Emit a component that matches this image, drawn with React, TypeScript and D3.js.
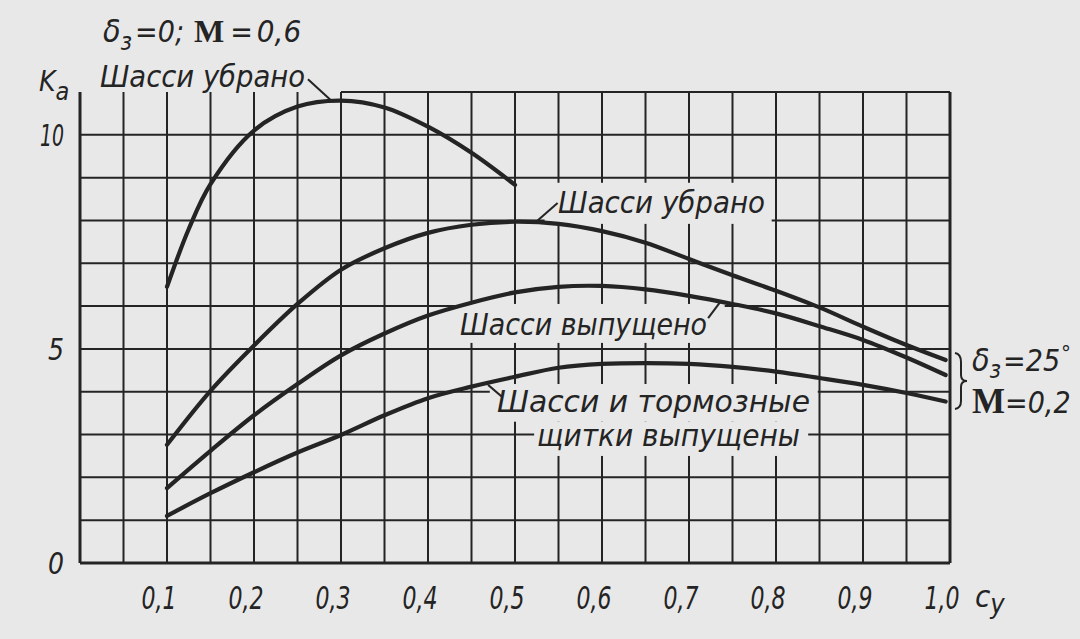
import React from "react";
import * as d3 from "d3";

// ---- data ----
const cyClean06 = [0.1, 0.125, 0.15, 0.2, 0.25, 0.3, 0.35, 0.4, 0.45, 0.5];
const kaClean06 = [6.45, 7.8, 8.85, 10.1, 10.66, 10.8, 10.64, 10.19, 9.58, 8.83];

const cy25 = [0.1, 0.15, 0.2, 0.25, 0.3, 0.35, 0.4, 0.45, 0.5, 0.55, 0.6, 0.65, 0.7, 0.75, 0.8, 0.85, 0.9, 0.95, 0.995];
const kaGearUp25 = [2.76, 4.02, 5.08, 6.05, 6.85, 7.35, 7.71, 7.9, 7.97, 7.92, 7.75, 7.48, 7.1, 6.72, 6.36, 5.97, 5.52, 5.09, 4.74];
const kaGearDown25 = [1.75, 2.62, 3.45, 4.18, 4.85, 5.36, 5.78, 6.08, 6.32, 6.45, 6.47, 6.39, 6.24, 6.05, 5.83, 5.53, 5.21, 4.8, 4.39];
const kaGearBrakes25 = [1.1, 1.63, 2.12, 2.58, 2.99, 3.45, 3.85, 4.12, 4.35, 4.56, 4.65, 4.67, 4.65, 4.58, 4.47, 4.32, 4.16, 3.97, 3.77];

const xTicks = [0.1, 0.2, 0.3, 0.4, 0.5, 0.6, 0.7, 0.8, 0.9, 1.0];
const xTickLabels = ["0,1", "0,2", "0,3", "0,4", "0,5", "0,6", "0,7", "0,8", "0,9", "1,0"];
const yTicks = [0, 5, 10];
const yTickLabels = ["0", "5", "10"];

const W = 1080;
const H = 639;
const BG = "#e8e8e8";
const INK = "#242424";
const FONT = "'Liberation Sans Narrow', 'DejaVu Sans Condensed', 'Roboto Condensed', 'Liberation Sans', sans-serif";
const SERIF = "'Liberation Serif', 'DejaVu Serif', serif";

export default function App() {
  const x = d3.scaleLinear().domain([0, 1]).range([80, 950]);
  const y = d3.scaleLinear().domain([0, 11]).range([563, 92]);

  const line = d3
    .line<[number, number]>()
    .x((d) => x(d[0]))
    .y((d) => y(d[1]))
    .curve(d3.curveCatmullRom.alpha(0.5));

  const zip = (xs: number[], ys: number[]) => xs.map((v, i) => [v, ys[i]] as [number, number]);
  const series = [
    zip(cyClean06, kaClean06),
    zip(cy25, kaGearUp25),
    zip(cy25, kaGearDown25),
    zip(cy25, kaGearBrakes25),
  ];

  const vLines = d3.range(0, 21).map((i) => i * 0.05);
  const hLines = d3.range(0, 11);

  // label masks in data coordinates [cy0, cy1, ka0, ka1]
  const masks: [number, number, number, number][] = [
    [0.534, 0.795, 8.88, 7.92],
    [0.431, 0.741, 6.05, 5.14],
    [0.471, 0.848, 4.18, 3.3],
    [0.522, 0.837, 3.3, 2.5],
  ];

  // leader lines [cy0, ka0, cy1, ka1]
  const leaders: [number, number, number, number][] = [
    [0.262, 11.3, 0.29, 10.78],
    [0.549, 8.41, 0.525, 7.98],
    [0.722, 5.72, 0.736, 6.1],
    [0.469, 4.16, 0.485, 3.88],
  ];

  const labelStyle = {
    fontFamily: FONT,
    fontStyle: "italic" as const,
    fontSize: 30,
    fill: INK,
  };

  return (
    <div style={{ position: "absolute", left: 0, top: 0 }}>
      <svg width={W} height={H} viewBox={`0 0 ${W} ${H}`} style={{ display: "block" }}>
        <rect x={0} y={0} width={W} height={H} fill={BG} />

        {/* grid */}
        <g stroke={INK} fill="none">
          {vLines.map((v, i) => (
            <line
              key={"v" + i}
              x1={x(v)}
              x2={x(v)}
              y1={y(0)}
              y2={y(11)}
              strokeWidth={i === 0 || i === 20 ? 3 : 2}
            />
          ))}
          {hLines.map((k) => (
            <line key={"h" + k} x1={x(0)} x2={x(1)} y1={y(k)} y2={y(k)} strokeWidth={k === 0 ? 3 : 2} />
          ))}
          <line x1={x(0.3)} x2={x(1)} y1={y(11)} y2={y(11)} strokeWidth={2} />
        </g>

        {/* label masks */}
        {masks.map((m, i) => (
          <rect
            key={"m" + i}
            x={x(m[0])}
            y={y(m[2])}
            width={x(m[1]) - x(m[0])}
            height={y(m[3]) - y(m[2])}
            fill={BG}
          />
        ))}

        {/* curves */}
        {series.map((s, i) => (
          <path key={"c" + i} d={line(s) || ""} fill="none" stroke={INK} strokeWidth={4.2} strokeLinecap="round" />
        ))}

        {/* leaders */}
        {leaders.map((l, i) => (
          <line key={"l" + i} x1={x(l[0])} y1={y(l[1])} x2={x(l[2])} y2={y(l[3])} stroke={INK} strokeWidth={2} />
        ))}

        {/* y ticks */}
        {yTicks.map((t, i) => (
          <text
            key={"yt" + i}
            x={64}
            y={y(t) + 11}
            textAnchor="end"
            {...labelStyle}
            fontSize={31}
            textLength={t >= 10 ? 24 : 16}
            lengthAdjust="spacingAndGlyphs"
          >
            {yTickLabels[i]}
          </text>
        ))}
        {/* x ticks */}
        {xTicks.map((t, i) => (
          <text
            key={"xt" + i}
            x={x(t) - 8}
            y={609}
            textAnchor="middle"
            {...labelStyle}
            fontSize={32}
            textLength={35}
            lengthAdjust="spacingAndGlyphs"
          >
            {xTickLabels[i]}
          </text>
        ))}
        <text x={975} y={607} {...labelStyle} fontSize={31}>
          c<tspan dy={6} fontSize={27}>y</tspan>
        </text>

        {/* axis title Ka */}
        <text x={39} y={91} {...labelStyle} fontSize={28}>
          K<tspan dy={9} fontSize={25}>а</tspan>
        </text>

        {/* top condition */}
        <text x={103} y={42} {...labelStyle} fontSize={32}>
          δ<tspan dy={8} fontSize={24}>з</tspan>
          <tspan dy={-8} dx={3} fontSize={30}>=0;</tspan>
          <tspan dx={10} fontFamily={SERIF} fontStyle="normal" fontWeight="bold" fontSize={32}>M</tspan>
          <tspan dx={6} fontSize={30}>=</tspan>
          <tspan dx={4} fontSize={31}>0,6</tspan>
        </text>

        {/* curve labels */}
        <text x={100} y={87} {...labelStyle} textLength={205} lengthAdjust="spacingAndGlyphs">Шасси убрано</text>
        <text x={558} y={213} {...labelStyle} textLength={207} lengthAdjust="spacingAndGlyphs">Шасси убрано</text>
        <text x={460} y={335} {...labelStyle} textLength={247} lengthAdjust="spacingAndGlyphs">Шасси выпущено</text>
        <text x={497} y={412} {...labelStyle} textLength={313} lengthAdjust="spacingAndGlyphs">Шасси и тормозные</text>
        <text x={537} y={446} {...labelStyle} textLength={263} lengthAdjust="spacingAndGlyphs">щитки выпущены</text>

        {/* right condition with brace */}
        <path
          d="M955,353 Q961,354 961,362 L961,375 Q961,381 967,381 Q961,381 961,387 L961,401 Q961,408 955,409"
          fill="none"
          stroke={INK}
          strokeWidth={2}
        />
        <text x={972} y={371} {...labelStyle} fontSize={32}>
          δ<tspan dy={7} fontSize={24}>з</tspan>
          <tspan dy={-7} dx={2} fontSize={30}>=25</tspan>
          <tspan dy={-10} dx={1} fontSize={22}>°</tspan>
        </text>
        <text x={972} y={413} {...labelStyle} fontSize={30}>
          <tspan fontFamily={SERIF} fontStyle="normal" fontWeight="bold" fontSize={35}>M</tspan>
          <tspan>=0,2</tspan>
        </text>
      </svg>
    </div>
  );
}
